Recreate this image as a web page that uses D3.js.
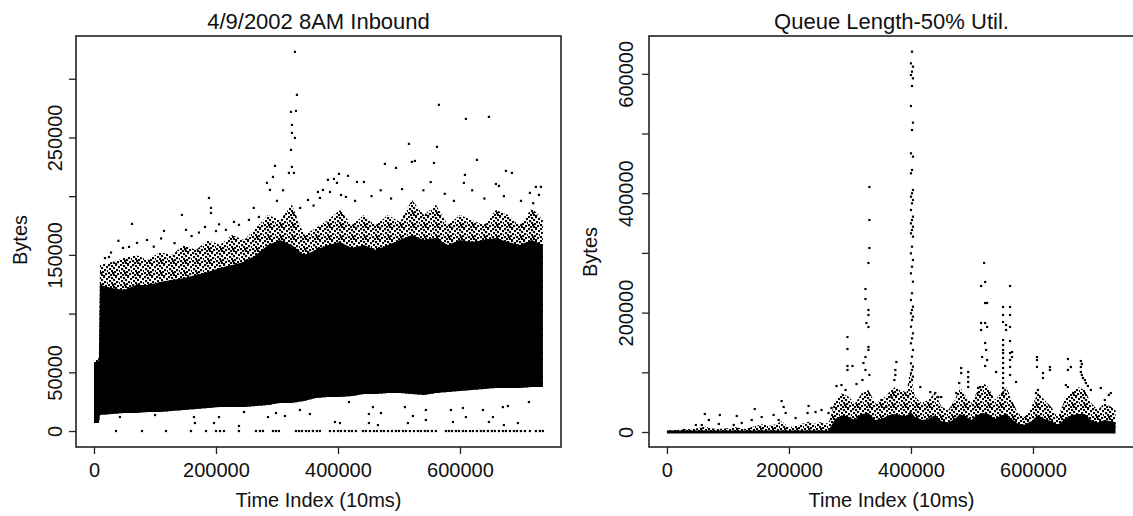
<!DOCTYPE html>
<html>
<head>
<meta charset="utf-8" />
<title>Inbound bytes and queue length</title>
<script src="https://cdn.jsdelivr.net/npm/d3@7"></script>
<style>
  body { margin: 0; background: #fff; }
  svg text { font-family: "Liberation Sans", Arial, Helvetica, sans-serif; fill: #111; }
  .axis path.domain { display: none; }
  .axis line { stroke: #222; stroke-width: 1.3; }
  .axis text { font-size: 20px; }
</style>
</head>
<body>
<svg id="chart" width="1133" height="516"></svg>
<script>
// ---- left panel: 4/9/2002 8AM inbound bytes ----
// the dense mass is kept as an envelope (bottom, solid top, speckled top)
var inTime = [0, 8000, 9800, 29500, 49200, 68800, 88500, 108200, 127800, 147500, 167200, 186800,
  206500, 226200, 245900, 265500, 285200, 304900, 324500, 344200, 363900, 383500, 403200, 422900,
  442500, 462200, 481900, 501500, 521200, 540900, 560500, 580200, 599900, 619500, 639200, 658900,
  678500, 698200, 717900, 735900];
var inLow = [6800, 6800, 13600, 14500, 15300, 15300, 16200, 16200, 17000, 17900, 18700, 19600,
  20400, 20400, 20400, 21300, 22200, 23900, 23900, 25600, 28100, 29000, 29000, 29800, 31500,
  31500, 32400, 32400, 31500, 30700, 32400, 33200, 34100, 34900, 35800, 36600, 36600, 36600,
  37500, 37500];
var inSolid = [58000, 60000, 124400, 121800, 120100, 124400, 124400, 126900, 128600, 130400,
  132900, 135500, 138900, 141400, 144000, 150000, 158500, 162700, 158500, 150000, 154200, 158500,
  161000, 155900, 158500, 154200, 158500, 162700, 167000, 162700, 164400, 158500, 162700, 161000,
  162700, 164400, 161000, 158500, 162700, 158500];
var inFringe = [61000, 62000, 141400, 144000, 147400, 150000, 145700, 152500, 150000, 158500,
  154200, 162700, 158500, 167000, 162700, 173000, 184000, 179800, 192600, 167000, 173000, 179800,
  188300, 175500, 184000, 175500, 184000, 178100, 196800, 184000, 192600, 175500, 184000, 179800,
  175500, 188300, 184000, 175500, 190000, 179800];

// single points standing clear of the mass [time, bytes]
var inPoints = [
  [329400, 322900], [332700, 286300], [322900, 271800], [331100, 272600], [324500, 260700],
  [324500, 253900], [329400, 249600], [322900, 239400], [324500, 224900], [319600, 219800],
  [327800, 219800], [296700, 225800], [293400, 216400], [283500, 211300], [288500, 205300],
  [188500, 198500], [191800, 190000], [191800, 185700], [144200, 184000], [62300, 176400],
  [114700, 170400], [401600, 219000], [416300, 217300], [393400, 214700], [383500, 213900],
  [398300, 211300], [431100, 212100], [442500, 212100], [367100, 203600], [350700, 196800],
  [386800, 203600], [565500, 277800], [609700, 265800], [647400, 267500], [516300, 244500],
  [562200, 242000], [627700, 230900], [476900, 227500], [521200, 229200], [526100, 230000],
  [557300, 228300], [495000, 224100], [675300, 221500], [685100, 219800], [724400, 207900],
  [732600, 207900], [714600, 202800], [608100, 218100], [606400, 211300], [658900, 210400],
  [663800, 208700], [375300, 205300], [370400, 198500], [729400, 201100], [413000, 199400],
  [70500, 160200], [24600, 148200], [18000, 147300], [27900, 152000], [47500, 155900],
  [57400, 156800], [86900, 162700], [150800, 171300], [172100, 169000], [182000, 173800],
  [229500, 178100], [237700, 175600], [254000, 179800], [270400, 182300], [200000, 170300],
  [216300, 171300], [98000, 157000], [132000, 160000], [160000, 166000], [40000, 162000],
  [110000, 164000], [205000, 176000], [262000, 190000], [300000, 196000], [310000, 205000],
  [338000, 190000], [360000, 192000], [405000, 201000], [428000, 196000], [455000, 200000],
  [470000, 205000], [487000, 198000], [505000, 206000], [540000, 205000], [552000, 212000],
  [575000, 202000], [590000, 196000], [620000, 205000], [640000, 198000], [672000, 200000],
  [700000, 196000], [720000, 194000],
  // below the mass
  [418000, 24700], [457300, 20400], [450700, 14500], [470400, 15300], [509700, 20400],
  [522800, 12800], [544100, 17900], [585100, 17900], [604800, 19600], [609700, 11900],
  [637600, 17900], [670300, 20400], [678500, 21300], [694900, 6800], [713000, 24700],
  [395000, 7700], [403200, 6800], [450700, 6800], [465500, 5100], [514600, 6800],
  [544100, 9400], [588400, 7700], [647400, 7700], [672000, 5100], [654000, 11900],
  [165500, 6800], [196700, 6800], [204900, 11900], [237700, 4300], [245900, 16200],
  [285200, 11900], [298300, 15300], [313000, 12800], [42600, 11900], [100000, 13600],
  [163900, 11900], [337600, 17900], [354000, 14500]
];
// points lying on zero bytes
var inZeroTimes = [36100, 78700, 118000, 159000, 183600, 200000, 206500, 213100, 237700, 265500,
  272100, 277000, 293400, 298300, 303200, 331100, 336000, 340900, 347500, 352400, 358900, 365500,
  370400, 386800, 393400, 399900, 404800, 411400, 418000, 422900, 429400, 440900, 445800, 452400,
  458900, 463800, 470400, 475300, 481900, 488400, 495000, 499900, 506500, 511400, 517900, 524500,
  531000, 535900, 542500, 547400, 554000, 560500, 576900, 581800, 586800, 593300, 598200, 604800,
  609700, 616300, 621200, 627700, 634300, 639200, 645800, 652300, 657200, 663800, 670400, 675300,
  681800, 688400, 693300, 699900, 706400, 714600, 724400, 731000, 735900];

// ---- right panel: queue length at 50% utilisation ----
var qTime = [0, 24500, 46900, 63300, 79600, 96000, 112300, 128700, 145000, 155800, 166800, 177700,
  188500, 199500, 210400, 221200, 232200, 243100, 253900, 264900, 275800, 286600, 297600, 308500,
  319300, 330300, 341200, 352000, 363000, 374000, 384800, 393000, 398400, 406600, 417500, 428400,
  439300, 450200, 461100, 472000, 480200, 491000, 499200, 507400, 518300, 526500, 537400, 548300,
  556500, 567300, 575500, 586500, 597300, 608200, 619200, 630000, 640900, 651900, 662700, 673600,
  684600, 695400, 706300, 717300, 728100, 735300];
var qSolid = [2500, 2500, 2500, 2500, 2500, 2500, 2500, 2500, 2500, 2500, 2500, 2500, 2500, 2500,
  2500, 2500, 2500, 2500, 2500, 2500, 22000, 28000, 25000, 20000, 30000, 32000, 20000, 22000,
  28000, 30000, 28000, 25000, 35000, 25000, 20000, 22000, 28000, 18000, 16000, 22000, 30000,
  25000, 20000, 28000, 32000, 30000, 22000, 28000, 30000, 20000, 14000, 12000, 18000, 28000,
  22000, 18000, 12000, 22000, 28000, 30000, 30000, 20000, 16000, 20000, 18000, 16000];
var qFringe = [3000, 4000, 6000, 9000, 5000, 6000, 8000, 5000, 10000, 13000, 10000, 13000, 18000,
  8000, 10000, 14000, 17000, 14000, 17000, 14000, 53600, 64800, 59100, 48000, 64800, 70400, 48000,
  53600, 65300, 75400, 70400, 65300, 103900, 58600, 48600, 53600, 65300, 41900, 36900, 53600,
  75400, 58600, 48600, 65300, 82100, 75400, 53600, 65300, 75400, 48600, 31800, 25100, 41900,
  65300, 53600, 41900, 25100, 53600, 65300, 75400, 70400, 48600, 36900, 48600, 41900, 36900];

// the tall column near t = 400000
var qSpikeBytes = [637000, 617500, 611900, 603500, 597900, 592400, 579500, 546000, 518100, 505800,
  466800, 461200, 438900, 433300, 405400, 399800, 394200, 388600, 383000, 371900, 360700, 355100,
  349500, 343900, 338300, 332800, 327200, 310400, 299300, 288100, 276900, 265800, 251800, 232400,
  221100, 209900, 204400, 198800, 193200, 187600, 176400, 165300, 156900, 148600, 137400, 126200,
  115100, 109500, 103900, 98300, 92800, 87100];
var qSpikeTimes = [401700, 400000, 403300];

var qPoints = [
  [331900, 410400], [331900, 355100], [331900, 308200], [330300, 283100], [325400, 239500],
  [325400, 222800], [330300, 204400], [330300, 196000], [327000, 182600], [330300, 175900],
  [330300, 142400], [330300, 137400], [325400, 125600], [322100, 115600], [325400, 103900],
  [331900, 95500], [320500, 87100], [295900, 159100], [295900, 139000], [295900, 110600],
  [304100, 110600], [295900, 103900], [278000, 77000], [286100, 78700], [292700, 70400],
  [310700, 80400], [27800, 3400], [47400, 11700], [57200, 11700], [62100, 30200], [68700, 20100],
  [86700, 28500], [85000, 13400], [114500, 26800], [109500, 11700], [122600, 15100],
  [143900, 38500], [139000, 20100], [155300, 25100], [174900, 28500], [188000, 51900],
  [191300, 41900], [194600, 31800], [183100, 20100], [210900, 23500], [232200, 43600],
  [230500, 31800], [243600, 33500], [253400, 36900], [264900, 31800], [269800, 40200],
  [367900, 58600], [351500, 53600], [359700, 41900], [376100, 117300], [374400, 103900],
  [374400, 95500], [372800, 87100], [415300, 75400], [431600, 67000], [439800, 65300],
  [444700, 58600], [449600, 58600], [482300, 107200], [482300, 98800], [493800, 100500],
  [493800, 92100], [493800, 83800], [493800, 75400], [479100, 82100], [474200, 65300],
  [519900, 283100], [515000, 244600], [521600, 251300], [521600, 216100], [524800, 216100],
  [515000, 182600], [521600, 182600], [524800, 175900], [515000, 170900], [521600, 149100],
  [523200, 137400], [516700, 125600], [524800, 120600], [521600, 110600], [513400, 75400],
  [510100, 73700], [539600, 100500], [562400, 244600], [551000, 209400], [562400, 209400],
  [551000, 196000], [562400, 196000], [551000, 184300], [555900, 179200], [562400, 175900],
  [555900, 170900], [551000, 154100], [551000, 145700], [551000, 137400], [551000, 132300],
  [551000, 124000], [551000, 115600], [551000, 107200], [551000, 98800], [551000, 90500],
  [551000, 82000], [551000, 73700], [551000, 65300], [562400, 152400], [562400, 132300],
  [562400, 120600], [562400, 108900], [562400, 95500], [565700, 134000], [565700, 125600],
  [572300, 83800], [606600, 125600], [606600, 120600], [606600, 108900], [616400, 98800],
  [616400, 90500], [627800, 108900], [627800, 103900], [608200, 70400], [605000, 65300],
  [657300, 122300], [662200, 108900], [657300, 103900], [654000, 78700], [657300, 75400],
  [678500, 118900], [680100, 113900], [678500, 108900], [678500, 100500], [680100, 95500],
  [681800, 90500], [685100, 87100], [686700, 82100], [690000, 77100], [694900, 70400],
  [711200, 73700], [724300, 62000], [717800, 53600], [727600, 65300]
];

var xTicks = [0, 200000, 400000, 600000];
var inYTicks = [0, 50000, 100000, 150000, 200000, 250000, 300000];
var inYLabels = ["0", "50000", "", "150000", "", "250000", ""];
var qYTicks = [0, 100000, 200000, 300000, 400000, 500000, 600000];
var qYLabels = ["0", "", "200000", "", "400000", "", "600000"];

var svg = d3.select("#chart");

// irregular speckle texture for the half-dense edge of the point cloud
var pat = svg.append("defs").append("pattern")
    .attr("id", "speck").attr("width", 12).attr("height", 12)
    .attr("patternUnits", "userSpaceOnUse");
[[0, 0], [3, 1], [7, 0], [10, 2], [1, 4], [5, 3], [8, 5], [3, 6], [0, 8], [6, 7],
 [9, 9], [2, 10], [5, 10], [4, 8], [11, 6], [7, 11]].forEach(function (r) {
  pat.append("rect").attr("x", r[0]).attr("y", r[1]).attr("width", 2.1).attr("height", 2.1).attr("fill", "#000");
});

function drawPanel(p) {
  var x = d3.scaleLinear().domain(p.xDomain).range([p.left, p.right]);
  var y = d3.scaleLinear().domain(p.yDomain).range([447, 36]);
  var g = svg.append("g");
  var idx = d3.range(p.time.length);

  g.append("path").datum(idx)
    .attr("fill", "url(#speck)")
    .attr("d", d3.area()
      .x(function (i) { return x(p.time[i]); })
      .y0(function (i) { return y(p.low[i]); })
      .y1(function (i) { return y(p.fringe[i]); }));

  g.append("path").datum(idx)
    .attr("fill", "#000")
    .attr("d", d3.area()
      .x(function (i) { return x(p.time[i]); })
      .y0(function (i) { return y(p.low[i]) + p.baseExtra; })
      .y1(function (i) { return y(p.solid[i]); }));

  g.selectAll("rect.pt").data(p.points).join("rect")
    .attr("class", "pt")
    .attr("x", function (d) { return x(d[0]) - 1.1; })
    .attr("y", function (d) { return y(d[1]) - 1.1; })
    .attr("width", 2.2).attr("height", 2.2)
    .attr("fill", "#000");

  // frame
  g.append("rect")
    .attr("x", p.left).attr("y", 36)
    .attr("width", p.right - p.left).attr("height", 411)
    .attr("fill", "none").attr("stroke", "#222").attr("stroke-width", 1.6);

  g.append("g").attr("class", "axis")
    .attr("transform", "translate(0,447)")
    .call(d3.axisBottom(x).tickValues(xTicks).tickSize(7).tickPadding(9).tickFormat(d3.format("d")));

  var ya = g.append("g").attr("class", "axis")
    .attr("transform", "translate(" + p.left + ",0)")
    .call(d3.axisLeft(y).tickValues(p.yTicks).tickSize(7)
      .tickFormat(function (d, i) { return p.yLabels[i]; }));
  ya.selectAll("text")
    .attr("x", null).attr("dy", null)
    .attr("text-anchor", "middle")
    .attr("transform", "translate(" + p.yLabelOff + ",0) rotate(-90)");

  var cx = (p.left + p.right) / 2;
  g.append("text").attr("x", cx).attr("y", 29)
    .attr("text-anchor", "middle").style("font-size", "22px").text(p.title);
  g.append("text").attr("x", cx).attr("y", 507)
    .attr("text-anchor", "middle").style("font-size", "20px").text("Time Index (10ms)");
  g.append("text")
    .attr("transform", "translate(" + p.bytesX + "," + p.bytesY + ") rotate(-90)")
    .attr("text-anchor", "middle").style("font-size", "20px").text("Bytes");
}

drawPanel({
  title: "4/9/2002 8AM Inbound",
  left: 76, right: 561,
  xDomain: [-29500, 765600], yDomain: [-13600, 336400],
  time: inTime, low: inLow, solid: inSolid, fringe: inFringe, baseExtra: 0,
  points: inPoints.concat(inZeroTimes.map(function (t) { return [t, 0]; })),
  yTicks: inYTicks, yLabels: inYLabels, yLabelOff: -14,
  bytesX: 27, bytesY: 240
});

drawPanel({
  title: "Queue Length-50% Util.",
  left: 649, right: 1134,
  xDomain: [-29400, 765600], yDomain: [-25100, 663300],
  time: qTime, low: qTime.map(function () { return 0; }), solid: qSolid, fringe: qFringe, baseExtra: 1.5,
  points: qPoints.concat(qSpikeBytes.map(function (b, i) {
    return [qSpikeTimes[i % qSpikeTimes.length], b];
  })),
  yTicks: qYTicks, yLabels: qYLabels, yLabelOff: -16,
  bytesX: 597, bytesY: 252
});
</script>
</body>
</html>
